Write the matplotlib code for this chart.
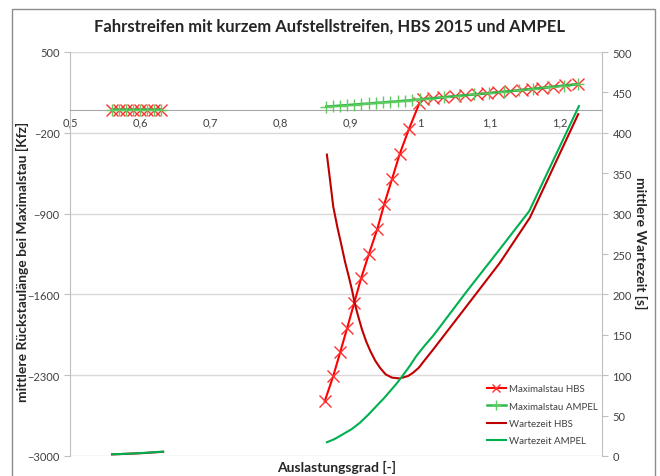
import numpy as np
import matplotlib
matplotlib.use("Agg")
import matplotlib.pyplot as plt
from matplotlib.patches import Rectangle
from matplotlib.ticker import FuncFormatter

plt.rcParams['font.family'] = ['Lato', 'DejaVu Sans']

nan = np.nan

# Maximalstau HBS (left axis)
max_hbs_x = [0.56, 0.57, 0.58, 0.59, 0.60, 0.61, 0.62, 0.63, nan,
             0.864, 0.876, 0.886, 0.896, 0.906, 0.916, 0.927, 0.939, 0.949, 0.960, 0.971, 0.984, 0.999,
             1.005, 1.019, 1.033, 1.050, 1.064, 1.081, 1.095, 1.112, 1.129, 1.145, 1.160, 1.174, 1.190, 1.207, 1.226]
max_hbs_y = [0, 0, 0, 0, 0, 0, 0, 0, nan,
             -2524, -2308, -2101, -1890, -1674, -1458, -1250, -1034, -816, -602, -384, -170, 54,
             92, 100, 107, 117, 125, 134, 142, 152, 161, 171, 180, 189, 199, 210, 222]

# Maximalstau AMPEL (left axis)
max_amp_x = [0.56, 0.57, 0.58, 0.59, 0.60, 0.61, 0.62, 0.63, nan,
             0.866, 0.876, 0.886, 0.896, 0.906, 0.916, 0.927, 0.937, 0.947, 0.957, 0.968, 0.978, 0.989, 1.0,
             1.013, 1.034, 1.056, 1.077, 1.098, 1.120, 1.141, 1.162, 1.184, 1.205, 1.226]
max_amp_y = [0, 0, 0, 0, 0, 0, 0, 0, nan,
             27, 31, 36, 40, 45, 49, 54, 59, 63, 68, 73, 78, 83, 89,
             96, 108, 120, 132, 143, 156, 168, 181, 195, 208, 222]

# Wartezeit HBS (right axis)
wz_hbs_x = [0.56, 0.57, 0.58, 0.59, 0.60, 0.61, 0.62, 0.633, nan,
            0.867, 0.872, 0.876, 0.882, 0.888, 0.893, 0.898, 0.903, 0.907, 0.912, 0.917, 0.923,
            0.929, 0.936, 0.943, 0.951, 0.960, 0.971, 0.983, 0.990, 0.998, 1.008,
            1.019, 1.067, 1.114, 1.157, 1.226]
wz_hbs_y = [2.0, 2.3, 2.7, 3.0, 3.4, 3.9, 4.5, 5.2, nan,
            373, 338, 309, 283, 260, 240, 223, 205, 188, 172, 157, 142,
            130, 118, 109, 101, 97, 96, 99, 103, 109, 120,
            132, 186, 239, 295, 423]

# Wartezeit AMPEL (right axis)
wz_amp_x = [0.56, 0.57, 0.58, 0.59, 0.60, 0.61, 0.62, 0.633, nan,
            0.867, 0.878, 0.890, 0.902, 0.914, 0.926, 0.938, 0.948, 0.957, 0.966, 0.974, 0.985, 0.995,
            1.007, 1.019, 1.067, 1.114, 1.156, 1.227]
wz_amp_y = [2.1, 2.4, 2.8, 3.1, 3.6, 4.1, 4.7, 5.4, nan,
            17, 21, 27, 33, 41, 51, 62, 71, 80, 89, 98, 111, 124,
            137, 149, 204, 256, 303, 433]

x_ticks = [0.5, 0.6, 0.7, 0.8, 0.9, 1.0, 1.1, 1.2]
left_ticks = [-3000, -2300, -1600, -900, -200, 500]
right_ticks = [0, 50, 100, 150, 200, 250, 300, 350, 400, 450, 500]

fig = plt.figure(figsize=(6.6, 4.77), dpi=100)
ax = fig.add_axes([70 / 660, 20 / 477, 532 / 660, 404 / 477])
ax2 = ax.twinx()

grey = '#BFBFBF'
txt = '#404040'

# left axis series
l1, = ax.plot(max_hbs_x, max_hbs_y, color='#FF0000', lw=1.5, marker='x', ms=8, mew=1,
              mec='#FF3030', label='Maximalstau HBS', zorder=4)
l2, = ax.plot(max_amp_x, max_amp_y, color='#2DB84A', lw=1.8, marker='+', ms=9, mew=1,
              mec='#5FCB5F', label='Maximalstau AMPEL', zorder=5)

# right axis series
l3, = ax2.plot(wz_hbs_x, wz_hbs_y, color='#C00000', lw=1.5, label='Wartezeit HBS')
l4, = ax2.plot(wz_amp_x, wz_amp_y, color='#00B050', lw=1.5, label='Wartezeit AMPEL')

ax.set_xlim(0.5, 1.26)
ax.set_ylim(-3000, 500)
ax.set_yticks(left_ticks)
ax2.set_ylim(0, 500)
ax2.set_yticks(right_ticks)
ax.set_xticks(x_ticks)
ax.xaxis.set_major_formatter(FuncFormatter(lambda v, p: ('%g' % round(v, 2)).replace('.', ',')))

ax.grid(axis='y', color='#D9D9D9', lw=1)
ax.set_axisbelow(True)

ax.spines['bottom'].set_position(('data', 0))
for s in ['top', 'right']:
    ax.spines[s].set_visible(False)
for s in ['top', 'left', 'bottom']:
    ax2.spines[s].set_visible(False)
ax.spines['left'].set_color(grey)
ax.spines['bottom'].set_color('#A6A6A6')
ax2.spines['right'].set_color(grey)

ax.tick_params(axis='x', length=0, labelsize=8, labelcolor=txt, pad=5)
ax.tick_params(axis='y', length=4, color=grey, labelsize=8, labelcolor=txt)
ax2.tick_params(axis='y', length=4, color=grey, labelsize=8, labelcolor=txt)

fig.text(330 / 660, 1 - 27 / 477, 'Fahrstreifen mit kurzem Aufstellstreifen, HBS 2015 und AMPEL',
         ha='center', va='center', fontsize=12, fontweight='bold', color='#262626')
fig.text(22 / 660, 1 - 262 / 477, 'mittlere Rückstaulänge bei Maximalstau [Kfz]', rotation=90,
         ha='center', va='center', fontsize=10, fontweight='bold', color='#262626')
fig.text(641 / 660, 1 - 243 / 477, 'mittlere Wartezeit [s]', rotation=270,
         ha='center', va='center', fontsize=10, fontweight='bold', color='#262626')
fig.text(337 / 660, 1 - 467 / 477, 'Auslastungsgrad [-]',
         ha='center', va='center', fontsize=10, fontweight='bold', color='#262626')

leg = ax2.legend(handles=[l1, l2, l3, l4], loc='lower left',
                 bbox_to_anchor=(478 / 660, 22 / 477), bbox_transform=fig.transFigure,
                 frameon=False, fontsize=7, handlelength=2.0, handletextpad=0.3,
                 labelspacing=0.85, markerscale=0.8)
for t in leg.get_texts():
    t.set_color(txt)

fig.patches.append(Rectangle((12 / 660, -0.1), 643 / 660, 1.1 - 10 / 477, transform=fig.transFigure,
                             fill=False, edgecolor='#8C8C8C', lw=1))

fig.savefig('out.png', dpi=100)
